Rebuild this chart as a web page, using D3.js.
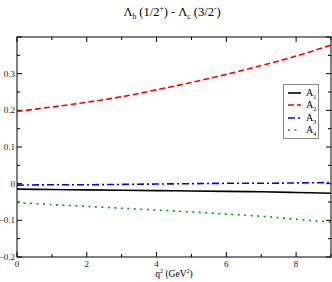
<!DOCTYPE html>
<html>
<head>
<meta charset="utf-8">
<script src="https://cdn.jsdelivr.net/npm/d3@7"></script>
<style>
  body { margin: 0; background: #fff; }
  text { font-family: "Liberation Serif", "DejaVu Serif", serif; }
</style>
</head>
<body>
<div id="chart"></div>
<script>
// q^2 grid and form factors
const q2 = [0, 1, 2, 3, 4, 5, 6, 7, 8, 9];
const A1 = [-0.015, -0.016, -0.017, -0.018, -0.019, -0.020, -0.021, -0.022, -0.024, -0.026];
const A2 = [0.197, 0.209, 0.222, 0.237, 0.256, 0.276, 0.298, 0.322, 0.348, 0.378];
const A3 = [-0.004, -0.003, -0.003, -0.002, -0.001, 0.000, 0.001, 0.001, 0.002, 0.003];
const A4 = [-0.052, -0.057, -0.062, -0.067, -0.072, -0.077, -0.083, -0.089, -0.097, -0.105];
const xTicks = [0, 2, 4, 6, 8];
const yTicks = [-0.2, -0.1, 0, 0.1, 0.2, 0.3];

const series = [
  { name: '1', vals: A1, color: '#000000', dash: null },
  { name: '2', vals: A2, color: '#ff0000', dash: '6,3' },
  { name: '3', vals: A3, color: '#0000ff', dash: '7,3,2,3' },
  { name: '4', vals: A4, color: '#00a000', dash: '2,4.5' }
];

const W = 332, H = 282;
const m = { l: 17, r: 1, t: 37, b: 25 };

let svg = d3.select('#chart').append('svg')
  .attr('width', W).attr('height', H);

let x = d3.scaleLinear().domain([0, 9]).range([m.l, W - m.r]);
let y = d3.scaleLinear().domain([-0.2, 0.4]).range([H - m.b, m.t]);

// ticks inside the frame, on all four sides
let minorX = d3.range(0, 10, 1);
let minorY = d3.range(-0.2, 0.4001, 0.05);

let g = svg.append('g').attr('stroke', '#000').attr('stroke-width', 1);
minorX.forEach(function(v) {
  let len = v % 2 === 0 ? 5 : 3;
  g.append('line').attr('x1', x(v)).attr('x2', x(v)).attr('y1', y(-0.2)).attr('y2', y(-0.2) - len);
  g.append('line').attr('x1', x(v)).attr('x2', x(v)).attr('y1', y(0.4)).attr('y2', y(0.4) + len);
});
minorY.forEach(function(v, i) {
  let len = i % 2 === 0 ? 5 : 3;
  g.append('line').attr('x1', x(0)).attr('x2', x(0) + len).attr('y1', y(v)).attr('y2', y(v));
  g.append('line').attr('x1', x(9)).attr('x2', x(9) - len).attr('y1', y(v)).attr('y2', y(v));
});

svg.append('rect')
  .attr('x', x(0)).attr('y', y(0.4))
  .attr('width', x(9) - x(0)).attr('height', y(-0.2) - y(0.4))
  .attr('fill', 'none').attr('stroke', '#000').attr('stroke-width', 1);

// tick labels
svg.selectAll('.xl').data(xTicks).enter().append('text')
  .attr('x', function(d) { return x(d); })
  .attr('y', H - m.b + 10)
  .attr('text-anchor', 'middle')
  .attr('font-size', 9)
  .attr('fill', '#222')
  .text(function(d) { return d; });

svg.selectAll('.yl').data(yTicks).enter().append('text')
  .attr('x', m.l - 2)
  .attr('y', function(d) { return y(d) + 3; })
  .attr('text-anchor', 'end')
  .attr('font-size', 9)
  .attr('fill', '#222')
  .text(function(d) { return d === 0 ? '0' : d3.format('.1f')(d); });

// curves
let line = d3.line()
  .x(function(d, i) { return x(q2[i]); })
  .y(function(d) { return y(d); })
  .curve(d3.curveCatmullRom);

series.forEach(function(s) {
  svg.append('path')
    .attr('d', line(s.vals))
    .attr('fill', 'none')
    .attr('stroke', s.color)
    .attr('stroke-width', 1.6)
    .attr('stroke-dasharray', s.dash);
});

// legend
let lg = svg.append('g');
lg.append('rect')
  .attr('x', 283.5).attr('y', 84.5).attr('width', 35).attr('height', 54)
  .attr('fill', '#fff').attr('stroke', '#888').attr('stroke-width', 1);
let ly = [93, 105, 118, 130];
series.forEach(function(s, i) {
  lg.append('line')
    .attr('x1', 288).attr('x2', 301).attr('y1', ly[i]).attr('y2', ly[i])
    .attr('stroke', s.color).attr('stroke-width', 1.6)
    .attr('stroke-dasharray', s.dash);
  let t = lg.append('text').attr('x', 306).attr('y', ly[i] + 3).attr('font-size', 10);
  t.append('tspan').text('A');
  t.append('tspan').attr('font-size', 6).attr('dy', 3).text(s.name);
});

// title
let title = svg.append('text')
  .attr('x', 172).attr('y', 16)
  .attr('text-anchor', 'middle')
  .attr('font-size', 12.5);
title.append('tspan').text('\u039B');
title.append('tspan').attr('font-size', 7.5).attr('dy', 3).text('b');
title.append('tspan').attr('dy', -3).text(' (1/2');
title.append('tspan').attr('font-size', 7.5).attr('dy', -5).text('+');
title.append('tspan').attr('dy', 5).text(') - \u039B');
title.append('tspan').attr('font-size', 7.5).attr('dy', 3).text('c');
title.append('tspan').attr('dy', -3).text(' (3/2');
title.append('tspan').attr('font-size', 7.5).attr('dy', -5).text('-');
title.append('tspan').attr('dy', 5).text(')');

// x axis label
let xl = svg.append('text')
  .attr('x', 174).attr('y', 277)
  .attr('text-anchor', 'middle')
  .attr('font-size', 9.5);
xl.append('tspan').text('q');
xl.append('tspan').attr('font-size', 6).attr('dy', -4).text('2');
xl.append('tspan').attr('dy', 4).text(' (GeV');
xl.append('tspan').attr('font-size', 6).attr('dy', -4).text('2');
xl.append('tspan').attr('dy', 4).text(')');
</script>
</body>
</html>
